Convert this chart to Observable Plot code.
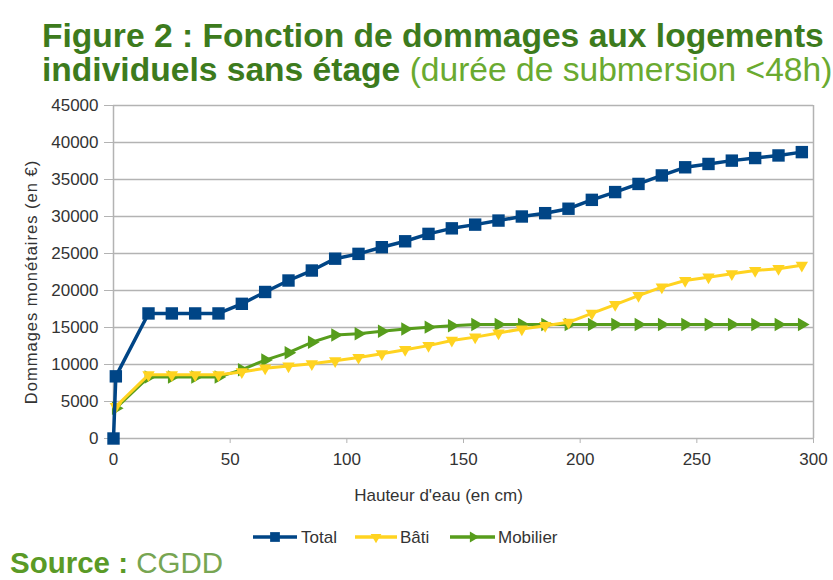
<!DOCTYPE html>
<html><head><meta charset="utf-8">
<script src="https://cdn.jsdelivr.net/npm/d3@7"></script>
<script src="https://cdn.jsdelivr.net/npm/@observablehq/plot@0.6"></script>
<style>
body{margin:0;background:#fff;width:833px;height:580px;position:relative;overflow:hidden;font-family:"Liberation Sans",Arial,sans-serif;}
#title{position:absolute;left:42px;top:19px;font-size:33.6px;line-height:34px;color:#3d7b1d;font-weight:bold;white-space:nowrap}
#title .light{font-weight:normal;color:#6aaa30}
#chart{position:absolute;left:0;top:95px}
#legend{position:absolute;top:520px;left:0}
#source{position:absolute;left:10px;top:548px;font-size:29.5px;line-height:29px;color:#5a9a26;white-space:nowrap}
#source b{font-weight:bold}
#source .light{color:#77a552}
</style></head><body>
<div id="title">Figure 2 : Fonction de dommages aux logements<br>individuels sans étage<span class="light"> (durée de submersion &lt;48h)</span></div>
<div id="chart"></div>
<svg id="legend" width="833" height="35"></svg>
<div id="source"><b>Source :</b> <span class="light">CGDD</span></div>
<script>
const heights = [0, 1, 15, 25, 35, 45, 55, 65, 75, 85, 95, 105, 115, 125, 135, 145, 155, 165, 175, 185, 195, 205, 215, 225, 235, 245, 255, 265, 275, 285, 295];
const total = [0, 8400, 16900, 16900, 16900, 16900, 18200, 19800, 21350, 22700, 24300, 24950, 25850, 26650, 27650, 28400, 28900, 29450, 30000, 30450, 31050, 32250, 33300, 34400, 35550, 36650, 37100, 37550, 37900, 38250, 38700];
const bati = [null, 4300, 8600, 8600, 8600, 8600, 9000, 9500, 9800, 10100, 10500, 10950, 11450, 12000, 12550, 13250, 13700, 14250, 14800, 15250, 15700, 16900, 18100, 19300, 20450, 21350, 21800, 22250, 22700, 22950, 23400];
const mobilier = [null, 4100, 8300, 8300, 8300, 8300, 9300, 10600, 11600, 13000, 14000, 14150, 14500, 14800, 15050, 15250, 15400, 15400, 15400, 15400, 15400, 15400, 15400, 15400, 15400, 15400, 15400, 15400, 15400, 15400, 15400];
const seriesNames = ["Total", "Bâti", "Mobilier"];
const seriesColors = ["#004586", "#ffd320", "#579d1c"];
const xTicks = [0, 50, 100, 150, 200, 250, 300];
const yTicks = [0, 5000, 10000, 15000, 20000, 25000, 30000, 35000, 40000, 45000];
const xLabel = "Hauteur d'eau (en cm)";
const yLabel = "Dommages monétaires (en €)";

const rows = heights.map((h, i) => ({h, total: total[i], bati: bati[i], mobilier: mobilier[i]}));
const gray = "#b3b3b3";

const chart = Plot.plot({
  width: 833, height: 420,
  marginTop: 10, marginBottom: 77, marginLeft: 113, marginRight: 20,
  style: {fontSize: "17px", fontFamily: "'Liberation Sans', Arial, sans-serif", color: "#333", background: "transparent", overflow: "visible"},
  x: {domain: [0, 300]},
  y: {domain: [0, 45000]},
  marks: [
    Plot.gridY(yTicks, {stroke: gray, strokeOpacity: 1, strokeWidth: 1.5}),
    Plot.ruleX([0, 300], {stroke: gray, strokeWidth: 1.5}),
    Plot.axisY(yTicks, {tickSize: 9, tickPadding: 6, tickFormat: d => String(d), label: null, stroke: gray, fill: "#333"}),
    Plot.axisX(xTicks, {tickSize: 5, tickPadding: 9, label: null, stroke: gray, fill: "#333"}),
    Plot.line(rows, {x: "h", y: "mobilier", stroke: seriesColors[2], strokeWidth: 3}),
    Plot.dot(rows, {x: "h", y: "mobilier", symbol: "triangle", rotate: 90, r: 5, fill: seriesColors[2], stroke: null}),
    Plot.line(rows, {x: "h", y: "bati", stroke: seriesColors[1], strokeWidth: 3}),
    Plot.dot(rows, {x: "h", y: "bati", symbol: "triangle", rotate: 180, r: 4.6, fill: seriesColors[1], stroke: null}),
    Plot.line(rows, {x: "h", y: "total", stroke: seriesColors[0], strokeWidth: 3.5}),
    Plot.dot(rows, {x: "h", y: "total", symbol: "square", r: 7, fill: seriesColors[0], stroke: null}),
    Plot.text([xLabel], {frameAnchor: "bottom", dx: -25, dy: 62, fontSize: 17, fill: "#333"}),
    Plot.text([yLabel], {frameAnchor: "left", textAnchor: "middle", dx: -82, dy: 10, rotate: -90, fontSize: 16.5, fill: "#333", className: "ylab"})
  ]
});
document.getElementById("chart").appendChild(chart);
d3.select(chart).selectAll(".ylab text").attr("letter-spacing", "1px");

// legend
const lg = d3.select("#legend");
const ly = 17;
const items = [
  {x0: 253, x1: 297, mx: 275, tx: 301, sym: "square", rot: 0, r: 5.5},
  {x0: 355, x1: 397, mx: 376, tx: 400, sym: "triangle", rot: 180, r: 4},
  {x0: 450, x1: 495, mx: 473, tx: 498, sym: "triangle", rot: 90, r: 4}
];
items.forEach((it, i) => {
  lg.append("line").attr("x1", it.x0).attr("x2", it.x1).attr("y1", ly).attr("y2", ly)
    .attr("stroke", seriesColors[i]).attr("stroke-width", 3.5);
  const sym = it.sym === "square" ? d3.symbolSquare : d3.symbolTriangle;
  lg.append("path").attr("d", d3.symbol(sym, Math.PI * it.r * it.r)())
    .attr("transform", `translate(${it.mx},${ly}) rotate(${it.rot})`).attr("fill", seriesColors[i]);
  lg.append("text").attr("x", it.tx).attr("y", ly + 6).attr("font-size", 17)
    .attr("font-family", "'Liberation Sans', Arial, sans-serif").attr("fill", "#333").text(seriesNames[i]);
});
</script>
</body></html>
